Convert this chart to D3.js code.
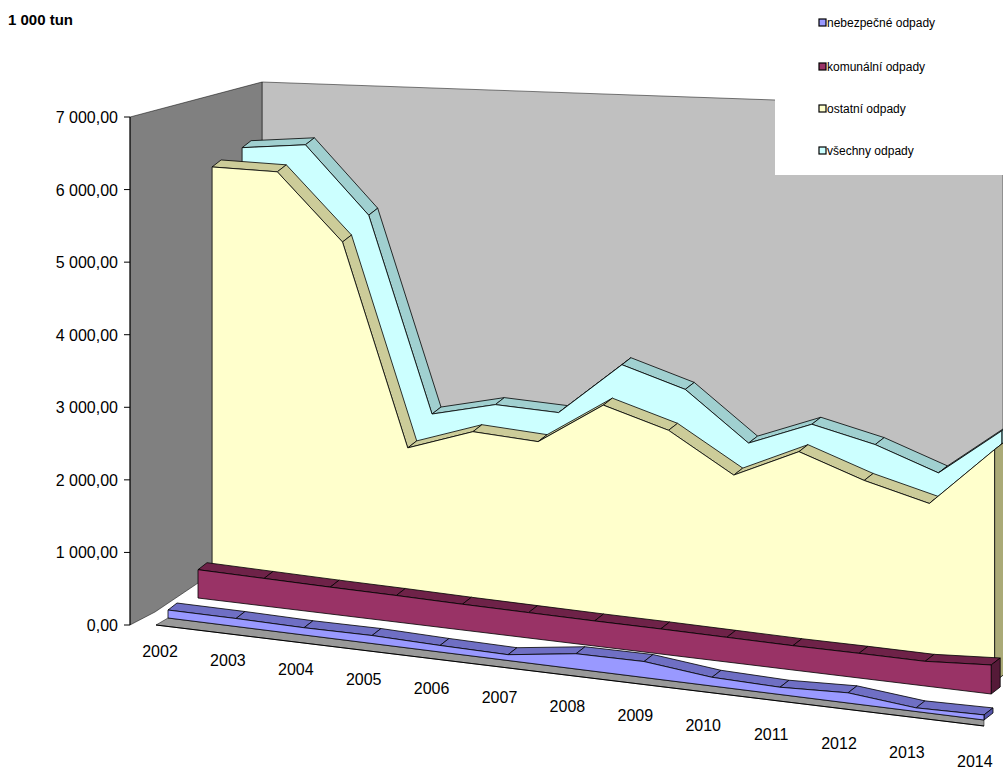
<!DOCTYPE html>
<html><head><meta charset="utf-8">
<script src="https://cdn.jsdelivr.net/npm/d3@7"></script>
<style>body{margin:0;background:#fff}text{font-family:Arial,"Liberation Sans",sans-serif}</style>
</head><body><div id="chart"></div>
<script>
var years = ["2002","2003","2004","2005","2006","2007","2008","2009","2010","2011","2012","2013","2014"];
var nebezpecne = [110, 110, 100, 110, 90, 80, 210, 220, 120, 100, 140, 50, 70];
var komunalni = [390, 380, 370, 365, 355, 350, 345, 345, 340, 335, 340, 340, 400];
var ostatni = [5810, 5850, 4990, 2260, 2590, 2560, 3170, 2930, 2420, 2850, 2560, 2350, 3200];
var vsechny = [5800, 5940, 5070, 2430, 2660, 2650, 3410, 3170, 2530, 2890, 2710, 2420, 3100];
var seriesNames = ["nebezpečné odpady", "komunální odpady", "ostatní odpady", "všechny odpady"];
var yTicks = [0, 1000, 2000, 3000, 4000, 5000, 6000, 7000];
var yTickLabels = ["0,00", "1 000,00", "2 000,00", "3 000,00", "4 000,00", "5 000,00", "6 000,00", "7 000,00"];

var W = 1003, H = 769;
var svg = d3.select("#chart").append("svg").attr("width", W).attr("height", H);

// oblique projection with a little perspective: i = category, d = series depth, e = ribbon back edge
var vy = d3.scaleLinear().domain([0, 7000]).range([0, 508]);
function P(i, d, v, e) {
  e = e || 0;
  return [168 + i * (68 - 1.9 * d) + 30 * d + e * 9,
          618 + i * (8.5 - 0.5 * d) - 20 * d - e * 7 - vy(v)];
}
function poly(pts) { return "M" + pts.map(function (p) { return p.join(","); }).join("L") + "Z"; }

// back wall and side wall
svg.append("path").attr("d", poly([[262, 82], [1003, 108], [1003, 560], [262, 540]])).attr("fill", "#c0c0c0").attr("stroke", "#000").attr("stroke-width", 0.5);
svg.append("path").attr("d", poly([[130, 117], [262, 82], [262, 540], [155, 612], [130, 625]])).attr("fill", "#808080").attr("stroke", "#000").attr("stroke-width", 0.5);
// floor slab
var f0 = P(0, 0, 0), f1 = P(12, 0, 0);
svg.append("path").attr("d", poly([[f0[0] - 12, f0[1] + 7], [f0[0], f0[1]], f1, [f1[0], f1[1] + 6]]))
  .attr("fill", "#999999").attr("stroke", "#000").attr("stroke-width", 0.5);
svg.append("line").attr("x1", f0[0] - 12).attr("y1", f0[1] + 7).attr("x2", f1[0]).attr("y2", f1[1] + 6).attr("stroke", "#000");

// y axis
var yAxisScale = d3.scaleLinear().domain([0, 7000]).range([625, 117]);
yTicks.forEach(function (t, j) {
  svg.append("line").attr("x1", 124).attr("x2", 130).attr("y1", yAxisScale(t)).attr("y2", yAxisScale(t)).attr("stroke", "#000");
  svg.append("text").attr("x", 118).attr("y", yAxisScale(t) + 6).attr("text-anchor", "end").attr("font-size", 16).text(yTickLabels[j]);
});
svg.append("line").attr("x1", 130).attr("x2", 130).attr("y1", 117).attr("y2", 625).attr("stroke", "#000");

var series = [
  {data: vsechny, d: 2.47, fill: "#ccffff", top: "#a0d0d0", side: "#88bbbb"},
  {data: ostatni, d: 1.47, fill: "#ffffcc", top: "#cccc99", side: "#aaaa77"},
  {data: komunalni, d: 1, fill: "#993366", top: "#6e2248", side: "#551a38"},
  {data: nebezpecne, d: 0, fill: "#9999ff", top: "#6f6fc4", side: "#5555aa"}
];
series.forEach(function (se) {
  var g = svg.append("g");
  var d = se.d, v = se.data, n = v.length - 1;
  for (var i = 0; i < n; i++) {
    g.append("path").attr("d", poly([P(i, d, v[i]), P(i + 1, d, v[i + 1]), P(i + 1, d, v[i + 1], 1), P(i, d, v[i], 1)]))
      .attr("fill", se.top).attr("stroke", "#000").attr("stroke-width", 0.8);
  }
  g.append("path").attr("d", poly([P(n, d, 0), P(n, d, v[n]), P(n, d, v[n], 1), P(n, d, 0, 1)]))
    .attr("fill", se.side).attr("stroke", "#000").attr("stroke-width", 0.8);
  var front = v.map(function (val, i) { return P(i, d, val); });
  front.push(P(n, d, 0)); front.push(P(0, d, 0));
  g.append("path").attr("d", poly(front)).attr("fill", se.fill).attr("stroke", "#000").attr("stroke-width", 0.8);
});

// category labels
years.forEach(function (y, i) {
  svg.append("text").attr("x", 160 + i * 67.9).attr("y", 657 + i * 9.2).attr("text-anchor", "middle").attr("font-size", 16).text(y);
});

// title
svg.append("text").attr("x", 8).attr("y", 25).attr("font-size", 15).attr("font-weight", "bold").text("1 000 tun");

// legend
svg.append("rect").attr("x", 775).attr("y", 0).attr("width", 228).attr("height", 175).attr("fill", "#fff");
var legendColors = ["#9999ff", "#993366", "#ffffcc", "#ccffff"];
var legendY = [27, 71, 113, 155];
seriesNames.forEach(function (name, j) {
  svg.append("rect").attr("x", 819).attr("y", legendY[j] - 8).attr("width", 7).attr("height", 7)
    .attr("fill", legendColors[j]).attr("stroke", "#000").attr("stroke-width", 1.2);
  svg.append("text").attr("x", 827).attr("y", legendY[j]).attr("font-size", 12).text(name);
});
</script>
</body></html>
